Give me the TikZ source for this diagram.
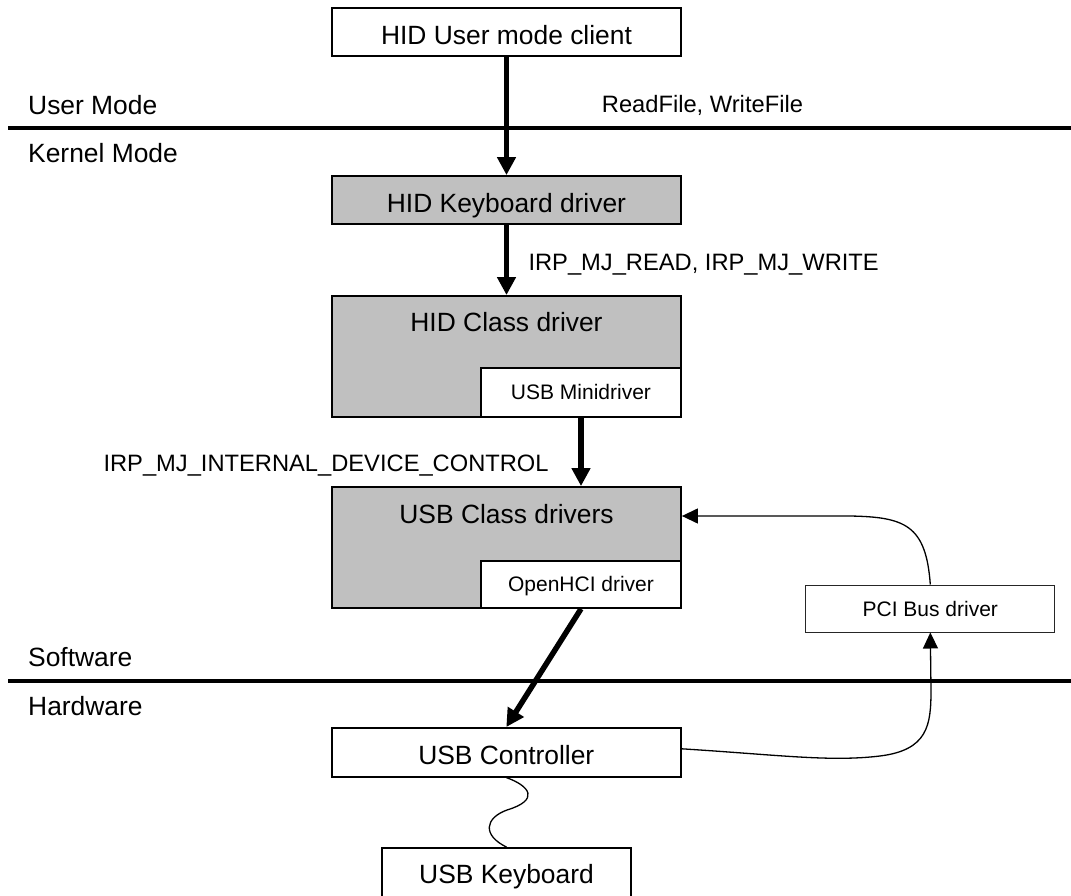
\documentclass[tikz,border=0pt]{standalone}
\usepackage{fontspec}
\setmainfont{Liberation Sans}
\usetikzlibrary{arrows.meta}
\definecolor{drvgray}{RGB}{192,192,192}
\begin{document}
\begin{tikzpicture}[x=1pt,y=-1pt,
  bigtext/.style={font=\fontsize{26.4}{30}\selectfont},
  midtext/.style={font=\fontsize{23.7}{28}\selectfont},
  smalltext/.style={font=\fontsize{21}{25}\selectfont},
  drvbox/.style={draw, line width=1.8pt, inner sep=0pt, minimum width=349pt,
    minimum height=48pt, bigtext, text height=24.5pt, text depth=0pt},
  drvfill/.style={fill=drvgray},
  subbox/.style={draw, fill=white, line width=1.8pt, inner sep=0pt,
    minimum width=200pt, minimum height=48pt, smalltext, text height=15pt, text depth=0pt},
  heavyarrow/.style={line width=5.5pt, -{Triangle[length=18pt,width=18pt]}},
  linkarrow/.style={line width=1.3pt, -{Triangle[length=16pt,width=15pt]}},
  sepline/.style={line width=4.6pt},
  sidelabel/.style={bigtext, anchor=base west, inner sep=0pt},
  calllabel/.style={midtext, anchor=base west, inner sep=0pt},
]
\useasboundingbox (0,0) rectangle (1071,896);
\clip (0,0) rectangle (1071,896);

% layer separators
\draw[sepline] (8,128) -- (1071,128);
\draw[sepline] (8,681) -- (1071,681);

\node[sidelabel] (um) at (28,115) {User Mode};
\node[sidelabel] (km) at (28,163) {Kernel Mode};
\node[sidelabel] (sw) at (28,666.7) {Software};
\node[sidelabel] (hw) at (28,715) {Hardware};

% driver stack
\node[drvbox] (client) at (506.5,32) {HID User mode client};
\node[drvbox, drvfill] (hidkbd) at (506.5,200) {HID Keyboard driver};
\node[drvbox, drvfill, minimum height=120.7pt] (hidclass) at (506.5,356.3) {};
\node[bigtext, anchor=base, inner sep=0pt] (hidclasst) at (506.5,331.7) {HID Class driver};
\node[subbox, minimum height=48.7pt] (mini) at (581,392.3) {USB Minidriver};
\node[drvbox, drvfill, minimum height=121pt] (usbclass) at (506.5,547.5) {};
\node[bigtext, anchor=base, inner sep=0pt] (usbclasst) at (506.5,523.3) {USB Class drivers};
\node[subbox, minimum height=47.3pt] (ohci) at (581,584.3) {OpenHCI driver};
\node[subbox, line width=1pt, draw=black!85, minimum width=249.3pt, minimum height=47pt] (pci) at (930.3,608.5) {PCI Bus driver};
\node[drvbox, minimum height=48.7pt, text height=23.5pt] (usbctrl) at (506.3,752.3) {USB Controller};
\node[drvbox, minimum width=249pt, minimum height=52pt, text height=19pt] (usbkbd) at (506.5,874) {USB Keyboard};

% call labels
\node[calllabel] (rw) at (601.7,112.3) {ReadFile, WriteFile};
\node[calllabel] (irprw) at (528.3,270.7) {IRP\_MJ\_READ, IRP\_MJ\_WRITE};
\node[calllabel] (irpint) at (103.3,471.7) {IRP\_MJ\_INTERNAL\_DEVICE\_CONTROL};

% request flow
\draw[heavyarrow] (client.south) -- (hidkbd.north);
\draw[heavyarrow] (hidkbd.south) -- (hidclass.north);
\draw[heavyarrow] (mini.south) -- (mini.south |- usbclass.north);
\draw[heavyarrow] (ohci.south) -- (usbctrl.north);

% bus enumeration links
\coordinate (pciin) at (usbclass.east |- 0,516);
\coordinate (ctrlout) at ([yshift=3.5pt]usbctrl.east);
\draw[linkarrow] (pci.north) .. controls (926,525) and (905,517) .. (850,516) -- (pciin);
\draw[linkarrow] (ctrlout) .. controls (780,755) and (830,762) .. (880,756)
  .. controls (928,750) and (931,725) .. (931,690) -- (pci.south);

% USB cable
\draw[line width=1.3pt] (usbctrl.south) .. controls (530,786) and (540,800) .. (507,810)
  .. controls (485,818) and (482,835) .. (usbkbd.north);
\end{tikzpicture}
\end{document}
